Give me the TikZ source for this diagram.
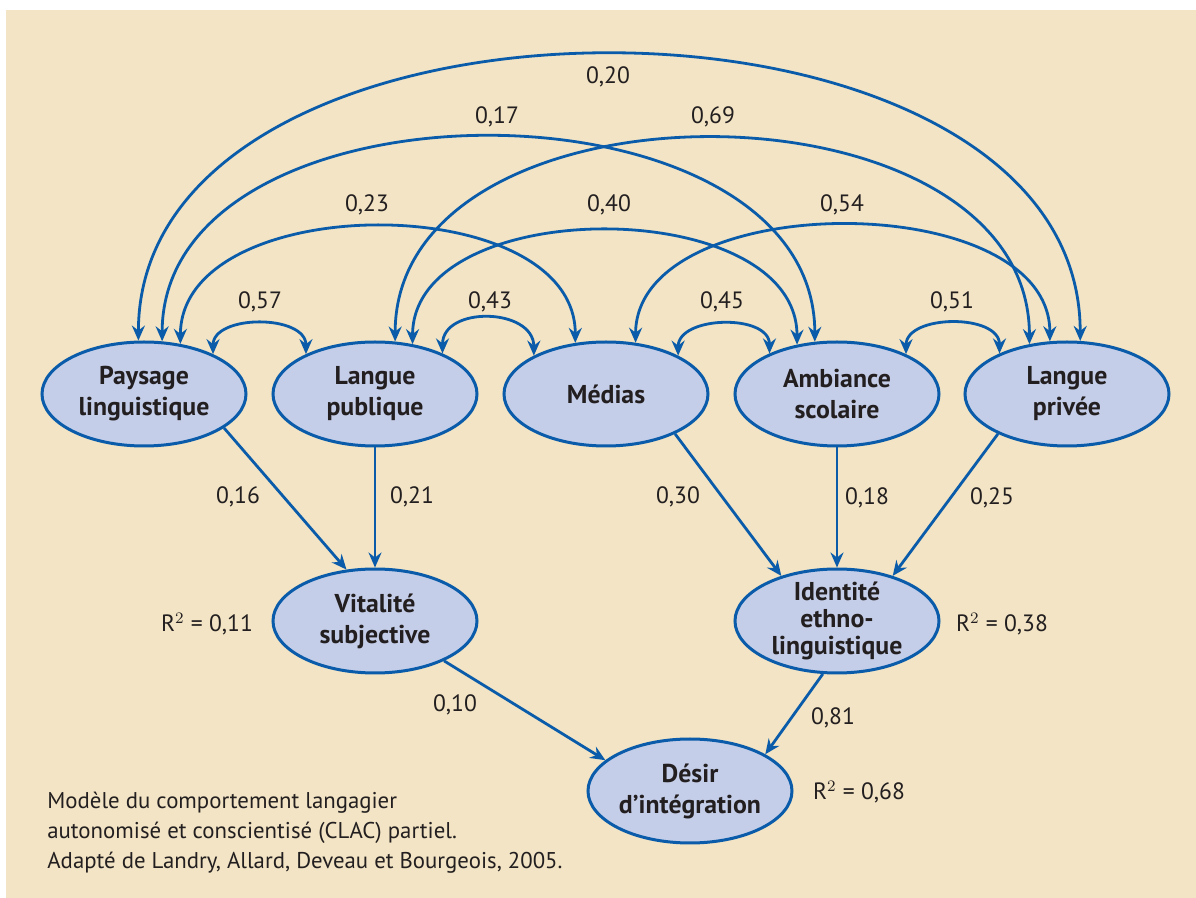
\documentclass[tikz,border=0pt]{standalone}
\usepackage{fontspec}
\setmainfont{PT Sans}
\usetikzlibrary{shapes.geometric,arrows.meta}

\definecolor{bgbeige}{RGB}{242,228,196}
\definecolor{latentfill}{RGB}{197,206,232}
\definecolor{pathblue}{RGB}{10,92,170}
\definecolor{inkgray}{RGB}{35,31,32}

\begin{document}
\begin{tikzpicture}[x=0.5pt,y=-0.5pt,
    latent/.style={ellipse, draw=pathblue, line width=1.5pt, fill=latentfill,
        minimum width=102pt, minimum height=52pt, inner sep=-4pt, align=center,
        font=\fontsize{12.9}{15.5}\selectfont\bfseries, text=inkgray},
    coef/.style={font=\fontsize{11.8}{14}\selectfont, text=inkgray, inner sep=0pt},
    tip/.tip={Stealth[length=7.5pt,width=6.5pt,inset=2.5pt]},
    effect/.style={draw=pathblue, line width=1.4pt, -tip},
    corr/.style={effect, tip-tip}]
    \useasboundingbox (0,0) rectangle (1196,898);
    \fill[bgbeige] (6,10) rectangle (1196,898);

    % variables
    \node[latent] (pay) at (144,394) {Paysage\\linguistique};
    \node[latent] (lpu) at (375,394) {Langue\\publique};
    \node[latent] (med) at (606,394) {Médias};
    \node[latent] (amb) at (837,394) {Ambiance\\scolaire};
    \node[latent] (lpr) at (1067,394) {Langue\\privée};
    \node[latent] (vit) at (375,621) {Vitalité\\subjective};
    \node[latent] (ide) at (837,621) {Identité\\[-2.2pt]ethno-\\[-2.2pt]linguistique};
    \node[latent] (des) at (690,791) {Désir\\d’intégration};

    % correlations
    \draw[corr] (pay.96) .. controls +(0,-381) and +(0,-381) .. (lpr.76);
    \draw[corr] (pay.71) .. controls +(0,-272) and +(0,-272) .. (amb.113);
    \draw[corr] (lpu.69) .. controls +(0,-272) and +(0,-272) .. (lpr.127);
    \draw[corr] (pay.54) .. controls +(0,-155) and +(0,-155) .. (med.121);
    \draw[corr] (lpu.53) .. controls +(0,-151) and +(0,-151) .. (amb.129);
    \draw[corr] (med.60) .. controls +(0,-155) and +(0,-155) .. (lpr.108);
    \draw[corr] (pay.30) .. controls +(0,-40) and +(0,-40) .. (lpu.150);
    \draw[corr] (lpu.31) .. controls +(0,-48) and +(0,-48) .. (med.152);
    \draw[corr] (med.28) .. controls +(0,-40) and +(0,-40) .. (amb.149);
    \draw[corr] (amb.30) .. controls +(0,-40) and +(0,-40) .. (lpr.149);

    \node[coef] (c20) at (608,77) {0,20};
    \node[coef] (c17) at (497,117) {0,17};
    \node[coef] (c69) at (713,117) {0,69};
    \node[coef] (c23) at (367,205) {0,23};
    \node[coef] (c40) at (609,205) {0,40};
    \node[coef] (c54) at (842,205) {0,54};
    \node[coef] (c57) at (260,302) {0,57};
    \node[coef] (c43) at (490,302) {0,43};
    \node[coef] (c45) at (722,302) {0,45};
    \node[coef] (c51) at (952,302) {0,51};

    % effects
    \draw[effect] (pay.-23) -- (vit.119);
    \draw[effect] (lpu.270) -- (vit.90);
    \draw[effect] (med.-30) -- (ide.141);
    \draw[effect] (amb.270) -- (ide.90);
    \draw[effect] (lpr.210) -- (ide.39);
    \draw[effect] (vit.-30) -- (des.160);
    \draw[effect] (ide.255) -- (des.26);

    \node[coef] (c16) at (238,497) {0,16};
    \node[coef] (c21) at (412,497) {0,21};
    \node[coef] (c30) at (678,497) {0,30};
    \node[coef] (c18) at (867,498) {0,18};
    \node[coef] (c25) at (992,498) {0,25};
    \node[coef] (c10) at (455,705) {0,10};
    \node[coef] (c81) at (833,718) {0,81};

    \node[coef] (rvit) at (207,624) {R$^2$ = 0,11};
    \node[coef] (ride) at (1002,624) {R$^2$ = 0,38};
    \node[coef] (rdes) at (859,792) {R$^2$ = 0,68};

    \node[coef, anchor=north west, align=left, font=\fontsize{11.4}{15}\selectfont] (cap) at (47,792)
        {Modèle du comportement langagier\\autonomisé et conscientisé (CLAC) partiel.\\Adapté de Landry, Allard, Deveau et Bourgeois, 2005.};
\end{tikzpicture}
\end{document}
